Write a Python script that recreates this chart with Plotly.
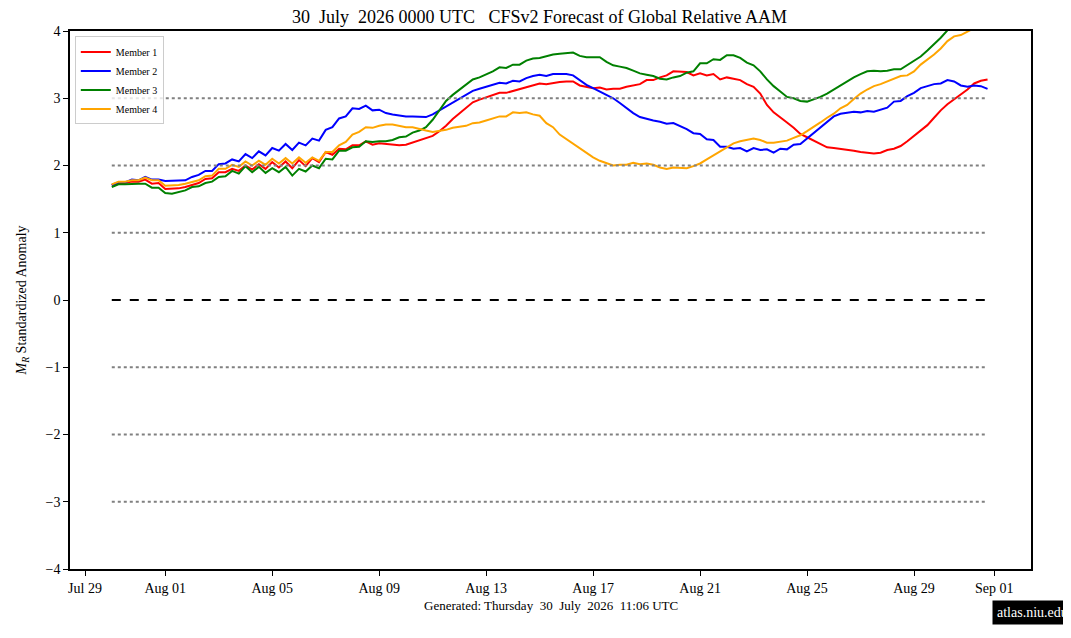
import pandas as pd
import plotly.graph_objects as go

# 6-hourly forecast times, Jul 30 00Z onwards
times = pd.date_range("2026-07-30 00:00", periods=132, freq="6h")

member1 = [1.71, 1.74, 1.74, 1.76, 1.76, 1.79, 1.73, 1.74, 1.65, 1.65,
           1.66, 1.68, 1.71, 1.74, 1.80, 1.81, 1.90, 1.90, 1.95, 1.92,
           2.00, 1.94, 2.02, 1.95, 2.05, 1.97, 2.06, 1.96, 2.08, 1.99,
           2.11, 2.05, 2.20, 2.16, 2.25, 2.24, 2.30, 2.30, 2.36, 2.31,
           2.33, 2.32, 2.31, 2.30, 2.31, 2.34, 2.37, 2.40, 2.44, 2.51,
           2.59, 2.69, 2.77, 2.85, 2.94, 2.98, 3.01, 3.04, 3.08, 3.08,
           3.11, 3.14, 3.17, 3.20, 3.22, 3.21, 3.23, 3.24, 3.25, 3.25,
           3.19, 3.17, 3.15, 3.16, 3.13, 3.14, 3.14, 3.17, 3.19, 3.21,
           3.27, 3.27, 3.31, 3.34, 3.40, 3.39, 3.39, 3.34, 3.37, 3.34,
           3.36, 3.28, 3.31, 3.29, 3.27, 3.21, 3.17, 3.07, 2.90, 2.79,
           2.72, 2.64, 2.56, 2.47, 2.42, 2.37, 2.33, 2.27, 2.26, 2.25,
           2.23, 2.22, 2.20, 2.19, 2.18, 2.19, 2.23, 2.25, 2.29, 2.36,
           2.44, 2.52, 2.60, 2.71, 2.82, 2.91, 2.98, 3.05, 3.13, 3.22,
           3.26, 3.28]

member2 = [1.71, 1.75, 1.75, 1.79, 1.78, 1.83, 1.79, 1.79, 1.77, 1.77,
           1.77, 1.78, 1.83, 1.86, 1.92, 1.92, 2.02, 2.03, 2.09, 2.06,
           2.17, 2.11, 2.21, 2.15, 2.26, 2.22, 2.32, 2.23, 2.34, 2.30,
           2.40, 2.37, 2.53, 2.57, 2.70, 2.73, 2.85, 2.84, 2.89, 2.82,
           2.83, 2.78, 2.76, 2.74, 2.73, 2.73, 2.73, 2.72, 2.76, 2.82,
           2.88, 2.93, 2.99, 3.06, 3.11, 3.14, 3.17, 3.20, 3.23, 3.22,
           3.26, 3.25, 3.30, 3.33, 3.35, 3.33, 3.36, 3.36, 3.36, 3.34,
           3.27, 3.20, 3.15, 3.10, 3.05, 3.00, 2.93, 2.85, 2.78, 2.72,
           2.69, 2.67, 2.65, 2.62, 2.63, 2.59, 2.54, 2.48, 2.47, 2.39,
           2.38, 2.28, 2.28, 2.25, 2.26, 2.21, 2.26, 2.23, 2.24, 2.19,
           2.25, 2.24, 2.31, 2.32, 2.40, 2.48, 2.57, 2.65, 2.73, 2.77,
           2.78, 2.80, 2.79, 2.81, 2.80, 2.83, 2.86, 2.95, 2.96, 3.03,
           3.08, 3.15, 3.18, 3.21, 3.22, 3.27, 3.25, 3.19, 3.17, 3.19,
           3.18, 3.14]

member3 = [1.68, 1.72, 1.72, 1.73, 1.73, 1.73, 1.67, 1.67, 1.59, 1.58,
           1.61, 1.63, 1.68, 1.69, 1.74, 1.76, 1.83, 1.84, 1.92, 1.88,
           1.99, 1.90, 1.98, 1.89, 1.96, 1.90, 1.98, 1.85, 1.95, 1.91,
           2.00, 1.96, 2.10, 2.09, 2.22, 2.22, 2.27, 2.28, 2.36, 2.35,
           2.36, 2.36, 2.38, 2.42, 2.43, 2.49, 2.52, 2.57, 2.68, 2.83,
           2.96, 3.05, 3.13, 3.21, 3.28, 3.31, 3.35, 3.40, 3.46, 3.45,
           3.50, 3.50, 3.56, 3.59, 3.60, 3.63, 3.65, 3.66, 3.67, 3.68,
           3.63, 3.61, 3.61, 3.61, 3.54, 3.49, 3.47, 3.45, 3.41, 3.37,
           3.35, 3.33, 3.29, 3.28, 3.31, 3.33, 3.38, 3.40, 3.52, 3.52,
           3.58, 3.57, 3.64, 3.64, 3.60, 3.53, 3.49, 3.40, 3.28, 3.18,
           3.10, 3.02, 3.00, 2.96, 2.95, 2.98, 3.02, 3.07, 3.13, 3.20,
           3.26, 3.31, 3.36, 3.40, 3.41, 3.40, 3.41, 3.43, 3.43, 3.49,
           3.56, 3.62, 3.71, 3.80, 3.90, 4.01, 4.12, 4.22, 4.32, 4.42,
           4.52, 4.60]

member4 = [1.72, 1.76, 1.76, 1.78, 1.78, 1.82, 1.78, 1.78, 1.70, 1.70,
           1.71, 1.73, 1.76, 1.78, 1.84, 1.85, 1.95, 1.95, 2.01, 1.98,
           2.06, 2.00, 2.07, 2.01, 2.10, 2.03, 2.11, 2.03, 2.12, 2.04,
           2.12, 2.07, 2.20, 2.20, 2.30, 2.35, 2.46, 2.50, 2.57, 2.56,
           2.59, 2.61, 2.61, 2.59, 2.57, 2.57, 2.54, 2.52, 2.50, 2.51,
           2.53, 2.56, 2.58, 2.59, 2.63, 2.64, 2.67, 2.70, 2.73, 2.73,
           2.79, 2.78, 2.79, 2.76, 2.74, 2.63, 2.57, 2.46, 2.39, 2.32,
           2.26, 2.19, 2.12, 2.07, 2.04, 2.00, 2.01, 2.01, 2.04, 2.02,
           2.03, 2.01, 1.97, 1.95, 1.97, 1.97, 1.96, 1.99, 2.03, 2.09,
           2.15, 2.22, 2.27, 2.33, 2.36, 2.38, 2.40, 2.38, 2.34, 2.34,
           2.35, 2.37, 2.41, 2.45, 2.51, 2.57, 2.64, 2.71, 2.77, 2.85,
           2.90, 2.99, 3.07, 3.13, 3.18, 3.21, 3.25, 3.30, 3.33, 3.34,
           3.40, 3.50, 3.57, 3.65, 3.74, 3.85, 3.92, 3.94, 3.99, 4.05,
           4.10, 4.15]

members = [("Member 1", member1, "red"), ("Member 2", member2, "blue"),
           ("Member 3", member3, "green"), ("Member 4", member4, "orange")]

hlines = [-3, -2, -1, 1, 2, 3]

tick_dates = ["2026-07-29", "2026-08-01", "2026-08-05", "2026-08-09", "2026-08-13",
              "2026-08-17", "2026-08-21", "2026-08-25", "2026-08-29", "2026-09-01"]
tick_text = ["Jul 29", "Aug 01", "Aug 05", "Aug 09", "Aug 13",
             "Aug 17", "Aug 21", "Aug 25", "Aug 29", "Sep 01"]

serif = "Liberation Serif, DejaVu Serif, serif"

fig = go.Figure()

for name, vals, col in members:
    fig.add_trace(go.Scatter(x=times, y=vals, mode="lines", name=name,
                             line=dict(color=col, width=2)))

# reference lines across the forecast period
for h in hlines:
    fig.add_shape(type="line", x0=times[0], x1=times[-1], y0=h, y1=h,
                  xref="x", yref="y", line=dict(color="gray", width=2, dash="dot"))
fig.add_shape(type="line", x0=times[0], x1=times[-1], y0=0, y1=0,
              xref="x", yref="y", line=dict(color="black", width=2, dash="dash"))

# page body adds an 8px offset, so the figure is a bit smaller than the window
fig.update_layout(
    width=1063, height=630,
    margin=dict(l=57, r=40, t=23, b=69),
    paper_bgcolor="white", plot_bgcolor="white",
    font=dict(family=serif, size=14, color="black"),
    title=dict(text="30  July  2026 0000 UTC   CFSv2 Forecast of Global Relative AAM",
               x=0.5, xanchor="center", y=0.986, yanchor="middle",
               font=dict(family=serif, size=18)),
    legend=dict(x=0.005, y=0.99, xanchor="left", yanchor="top",
                bgcolor="rgba(255,255,255,0.8)", bordercolor="#cccccc", borderwidth=1,
                font=dict(family=serif, size=10), itemwidth=30, tracegroupgap=0),
    showlegend=True,
)

fig.update_xaxes(
    range=["2026-07-28 10:30", "2026-09-02 09:00"],
    tickvals=tick_dates, ticktext=tick_text,
    ticks="outside", ticklen=5, tickcolor="black",
    tickfont=dict(family=serif, size=14),
    showline=True, linecolor="black", linewidth=1.5, mirror=True,
    showgrid=False, zeroline=False,
)
fig.update_yaxes(
    range=[-4, 4], dtick=1, tick0=0,
    ticks="outside", ticklen=5, tickcolor="black",
    tickfont=dict(family=serif, size=14),
    showline=True, linecolor="black", linewidth=1.5, mirror=True,
    showgrid=False, zeroline=False,
    title=dict(text="<i>M</i><sub><i>R</i></sub> Standardized Anomaly",
               font=dict(family=serif, size=14), standoff=16),
)

fig.add_annotation(text="Generated: Thursday  30  July  2026  11:06 UTC",
                   xref="paper", yref="paper", x=0.5, y=0, yshift=-36,
                   xanchor="center", yanchor="middle", showarrow=False,
                   font=dict(family=serif, size=13))
fig.add_annotation(text="atlas.niu.edu", xref="paper", yref="paper",
                   x=0.959, y=0, yshift=-43, xanchor="left", yanchor="middle",
                   showarrow=False, bgcolor="black", borderpad=4,
                   font=dict(family=serif, size=14, color="white"))

fig.write_html("out.html")
